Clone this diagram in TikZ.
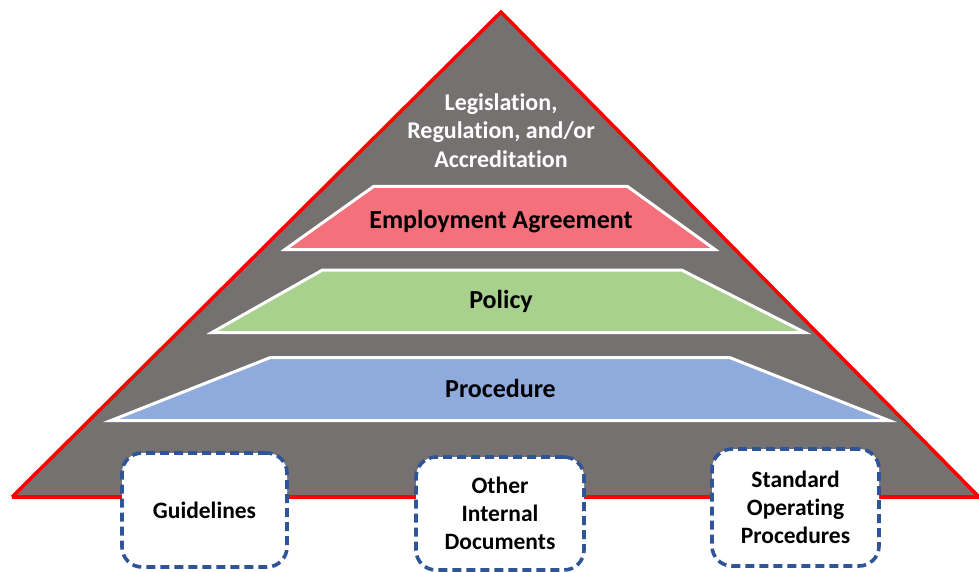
\documentclass[tikz,border=0pt]{standalone}
\usepackage{fontspec}
\setmainfont[Ligatures=NoCommon]{Carlito}
\definecolor{pyrgray}{HTML}{767171}
\definecolor{pyrred}{HTML}{FF0000}
\definecolor{tierpink}{HTML}{F4707A}
\definecolor{tiergreen}{HTML}{A9D18E}
\definecolor{tierblue}{HTML}{8FAADC}
\definecolor{boxblue}{HTML}{2F5597}
\tikzset{
  tier/.style={draw=white, line width=3pt, miter limit=20},
  tierlabel/.style={font=\fontsize{26}{30}\selectfont\bfseries, text=black, anchor=base},
  doc/.style={draw=boxblue, fill=white, line width=3.6pt, rounded corners=20pt,
    dash pattern=on 9pt off 5pt, align=center,
    font=\fontsize{23.5}{28}\selectfont\bfseries, text=black, inner sep=0pt},
}
\begin{document}
\begin{tikzpicture}[x=1pt,y=-1pt]
\useasboundingbox (0,0) rectangle (979,572);

% outer pyramid
\coordinate (apex) at (501,12);
\coordinate (bl) at (12,497);
\coordinate (br) at (979,497);
\fill[pyrgray] (apex) -- (br) -- (bl) -- cycle;
\draw[pyrred, line width=3.5pt, line join=miter] (bl) -- (apex) -- (br);
\draw[pyrred, line width=3.5pt] (bl) -- (br);

\node[align=center, text=white, font=\fontsize{24}{28.5}\selectfont\bfseries]
  (law) at (501,130.5) {Legislation,\\Regulation, and/or\\Accreditation};

% tiers
\filldraw[tier, fill=tierpink] (373.5,186.5) -- (627.5,186.5) -- (715,249.5) -- (285,249.5) -- cycle;
\node[tierlabel] (emp) at (501,228.3) {Employment Agreement};

\filldraw[tier, fill=tiergreen] (322.5,270) -- (681.5,270) -- (805,332.5) -- (212,332.5) -- cycle;
\node[tierlabel] (pol) at (501,308.3) {Policy};

\filldraw[tier, fill=tierblue] (270.5,357.5) -- (729.5,357.5) -- (889,420.5) -- (111,420.5) -- cycle;
\node[tierlabel] (proc) at (500.5,397.7) {Procedure};

% supporting documents
\node[doc, minimum width=165pt, minimum height=114pt] (guide) at (204.5,510) {Guidelines};
\node[doc, minimum width=168pt, minimum height=113pt] (other) at (500,513.5) {Other\\Internal\\Documents};
\node[doc, minimum width=167pt, minimum height=117pt] (sop) at (795.5,507.5) {Standard\\Operating\\Procedures};
\end{tikzpicture}
\end{document}
